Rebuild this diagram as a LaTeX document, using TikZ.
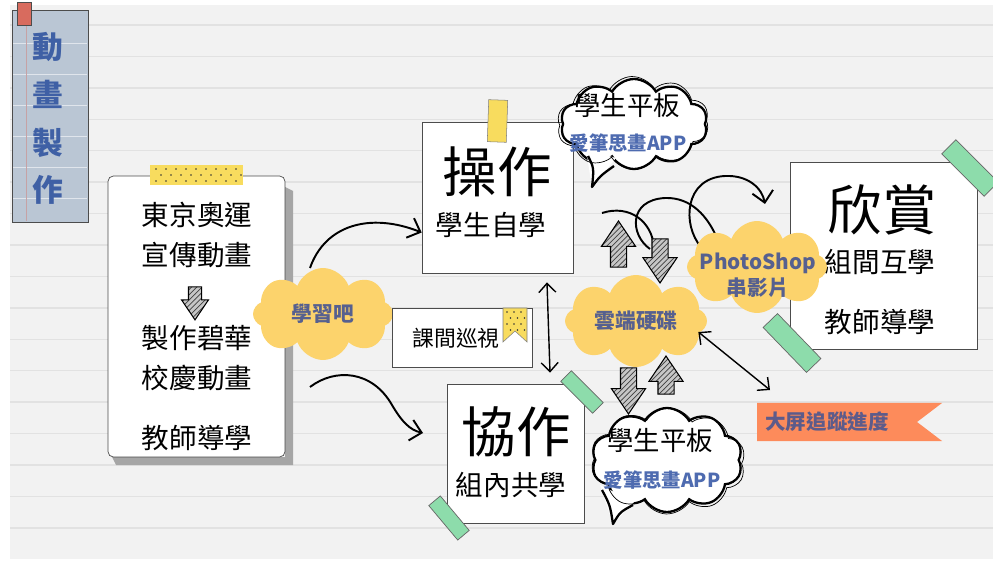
\documentclass[tikz,border=0pt]{standalone}
\usepackage{fontspec}
\setmainfont{Noto Sans CJK TC}
\usetikzlibrary{shapes.symbols,shapes.arrows,arrows.meta,patterns,positioning}

\definecolor{paper}{HTML}{F2F2F2}
\definecolor{rulegray}{HTML}{E2E2E2}
\definecolor{tagblue}{HTML}{BAC6D4}
\definecolor{titleblue}{HTML}{3F60A5}
\definecolor{tabred}{HTML}{D86B5E}
\definecolor{cloudyellow}{HTML}{FCD36C}
\definecolor{cloudtext}{HTML}{56608F}
\definecolor{appblue}{HTML}{4E6BB0}
\definecolor{bannerorange}{HTML}{FD8B5B}
\definecolor{bannertext}{HTML}{5D5B8A}
\definecolor{tapegreen}{HTML}{8DDCAB}
\definecolor{tapeyellow}{HTML}{F8DC5E}

\newcommand\fsz[2]{\fontsize{#1}{#2}\selectfont}

\tikzset{
  ruleline/.style={rulegray, line width=0.8pt},
  card/.style={draw=black!70, line width=0.4pt, fill=white, inner sep=0pt},
  titlechar/.style={text=titleblue, font=\bfseries\fsz{17.5pt}{20pt}},
  yellowcloud/.style={cloud, cloud puffs=8, cloud puff arc=140, cloud ignores aspect, fill=cloudyellow, inner sep=0pt, text=cloudtext, font=\bfseries\fsz{11.8pt}{14pt}},
  cloudlabel/.style={text=cloudtext, align=center, font=\bfseries\fsz{11.8pt}{14.8pt}},
  speech/.style={cloud, cloud puffs=10, cloud puff arc=120, cloud ignores aspect, draw=black, line width=1.3pt, fill=white, inner sep=0pt},
  speechecho/.style={cloud, cloud puffs=10, cloud puff arc=120, cloud ignores aspect, draw=black, line width=0.4pt, inner sep=0pt},
  hatcharrow/.style={single arrow, draw=black, line width=0.6pt, preaction={fill=gray!45}, pattern=north east lines, pattern color=black!75, single arrow head extend=0.18cm, single arrow head indent=0pt, single arrow tip angle=68, minimum height=0.92cm, minimum width=0.66cm, inner xsep=0pt, inner ysep=0.15cm},
  greentape/.style={draw=black!60, fill=tapegreen, line width=0.4pt, inner sep=0pt},
  sketch/.style={line width=1.1pt, -{Straight Barb[length=2.2mm,width=4.2mm]}},
  twoway/.style={line width=0.8pt, {Straight Barb[length=1.8mm,width=3.4mm]}-{Straight Barb[length=1.8mm,width=3.4mm]}},
  bigtext/.style={font=\fsz{31pt}{34pt}},
  midtext/.style={font=\fsz{15.7pt}{22.8pt}, align=center},
  padtext/.style={font=\fsz{15pt}{17pt}},
  apptext/.style={text=appblue, font=\bfseries\fsz{11pt}{13pt}},
}

\begin{document}
\begin{tikzpicture}[x=0.02cm, y=-0.02cm]
\useasboundingbox (0,0) rectangle (993,563);
% paper
\fill[white] (0,0) rectangle (993,563);
\fill[paper] (10,5) rectangle (993,559);
\foreach \k in {0,...,16}
  \draw[ruleline] (10,{25+31.43*\k}) -- (993,{25+31.43*\k});

% title tag
\node[draw=black!70, fill=tagblue, minimum width=1.52cm, minimum height=4.24cm, inner sep=0pt] (tag) at (50,116) {};
\foreach \k in {1,...,6}
  \draw[white!55!tagblue, line width=0.5pt] (13,{12+31*\k}) -- (87,{12+31*\k});
\draw[tabred!40!tagblue, line width=0.5pt] (26,11) -- (26,221);
\node[draw=black!70, fill=tabred, minimum width=0.28cm, minimum height=0.46cm, inner sep=0pt] (tab) at (24,13.5) {};
\foreach \ch [count=\i] in {動,畫,製,作}
  \node[titlechar] (title\i) at (48,{-0.5+47.7*\i}) {\ch};

% left card
\fill[black!35] (285,187) -- (293,191) -- (293,465) -- (116,465) -- (112,457) -- (285,457) -- cycle;
\node[card, rounded corners=3pt, minimum width=3.54cm, minimum height=5.62cm] (plan) at (196.5,316.5) {};
\node[fill=tapeyellow, minimum width=1.86cm, minimum height=0.4cm, inner sep=0pt] (planTape) at (196.5,175) {};
\foreach \r in {0,1,2}
  \foreach \c in {0,...,8}
    \fill[black!80] ({156+10*\c+5*mod(\r,2)},{169+6*\r}) circle (0.5pt);
\node[midtext] (plan1) at (197,235) {東京奧運\\宣傳動畫};
\node[hatcharrow, rotate=-90, minimum height=0.66cm, minimum width=0.52cm, single arrow head extend=0.14cm, inner ysep=0.12cm] (planArrow) at (195,298.5) {};
\node[midtext] (plan2) at (197,358) {製作碧華\\校慶動畫};
\node[midtext] (plan3) at (197,438) {教師導學};

% learn cloud
\node[yellowcloud, minimum width=2.8cm, minimum height=1.84cm] (learn) at (323,314) {學習吧};

% patrol box
\node[card, minimum width=2.8cm, minimum height=1.18cm] (patrol) at (462,337.5) {};
\fill[tapeyellow, draw=black!50, line width=0.3pt] (503,308) -- (527,308) -- (527,342) -- (515,331) -- (503,342) -- cycle;
\foreach \r in {0,...,3}
  \foreach \c in {0,1,2}
    \fill[black!80] ({507+7*\c+3.5*mod(\r,2)},{312+6*\r}) circle (0.45pt);
\node[font=\fsz{12.4pt}{14pt}] (patrolT) at (456,338) {課間巡視};

% op box
\node[card, minimum width=3.02cm, minimum height=3.02cm] (opbox) at (497.5,197.5) {};
\node[fill=tapeyellow, draw=black!50, line width=0.3pt, minimum width=0.38cm, minimum height=0.84cm, inner sep=0pt, rotate=-2] (opTape) at (497.5,121) {};
\node[bigtext] (opT) at (497,172) {操作};
\node[midtext] (opS) at (491,225) {學生自學};

% co box
\node[card, minimum width=2.74cm, minimum height=2.78cm] (cobox) at (515.5,453.5) {};
\node[greentape, rotate=-45, minimum width=0.9cm, minimum height=0.3cm] (coTapeA) at (582,392) {};
\node[greentape, rotate=-50, minimum width=0.9cm, minimum height=0.3cm] (coTapeB) at (449,518) {};
\node[bigtext] (coT) at (516,432) {協作};
\node[midtext] (coS) at (511,485) {組內共學};

% arrows out of the plan card
\coordinate (planUp) at (310,268);
\coordinate (planDown) at (310,387);
\coordinate (coIn) at (423,433);
\draw[sketch] (planUp) .. controls (325,225) and (370,212) .. ([yshift=-0.7cm]opbox.west);
\draw[sketch] (planDown) .. controls (335,368) and (372,370) .. (392,405) .. controls (402,422) and (410,430) .. (coIn);
\draw[twoway] ([xshift=0.99cm, yshift=-0.18cm]opbox.south) -- ([xshift=0.69cm, yshift=0.22cm]cobox.north);

% tablet clouds
\node[speech, minimum width=2.94cm, minimum height=1.8cm] (padTop) at (634,124) {};
\fill[white] (586,150) -- (592,187) -- (616,158) -- cycle;
\draw[line width=1.3pt, line join=round] (588,156) .. controls (594,168) .. (592,187) .. controls (600,176) .. (614,166);
\node[speechecho, minimum width=3.04cm, minimum height=1.86cm, rotate=2] (padTopEcho) at (633,123) {};
\node[padtext] (padTopA) at (627,106) {學生平板};
\node[apptext] (padTopB) at (628,143) {愛筆思畫APP};

\node[speech, minimum width=3.02cm, minimum height=2.08cm] (padBot) at (667,460) {};
\fill[white] (600,485) -- (613,524) -- (634,502) -- cycle;
\draw[line width=1.3pt, line join=round] (602,490) .. controls (610,505) .. (613,524) .. controls (620,512) .. (633,505);
\node[speechecho, minimum width=3.1cm, minimum height=2.12cm, rotate=-2] (padBotEcho) at (668,461) {};
\node[padtext] (padBotA) at (660,440) {學生平板};
\node[apptext] (padBotB) at (662,480) {愛筆思畫APP};

% swirls
\draw[line width=1.1pt] (602,213) .. controls (630,204) and (652,222) .. (654,247);
\draw[line width=1.1pt] (650,249) .. controls (630,235) and (628,200) .. (665,198) .. controls (692,197) and (708,218) .. (716,236);
\draw[sketch] (701,247) .. controls (682,225) and (684,178) .. (725,176) .. controls (748,175) and (762,188) .. (765,204);

% drive cloud and up/down arrows
\node[yellowcloud, minimum width=2.84cm, minimum height=1.84cm] (drive) at (636,321) {雲端硬碟};
\node[hatcharrow, rotate=90] (upA) at (618.5,250) {};
\node[hatcharrow, rotate=-90, minimum height=0.88cm] (downA) at (660,255) {};
\node[hatcharrow, rotate=-90] (downB) at (628.5,385) {};
\node[hatcharrow, rotate=90, minimum height=0.76cm] (upB) at (666,381) {};

% enjoy box
\node[card, minimum width=3.74cm, minimum height=3.74cm] (enjoy) at (883.5,255.5) {};
\node[greentape, rotate=-45, minimum width=1.2cm, minimum height=0.4cm] (enjoyTapeA) at (970,168) {};
\node[greentape, rotate=-46, minimum width=1.25cm, minimum height=0.4cm] (enjoyTapeB) at (792,343) {};
\node[bigtext] (enjoyT) at (882,210) {欣賞};
\node[midtext] (enjoyS) at (880,262) {組間互學};
\node[midtext] (enjoyG) at (880,322) {教師導學};

% photoshop cloud
\node[yellowcloud, minimum width=2.8cm, minimum height=1.84cm] (photo) at (757,267) {};
\node[cloudlabel] (photoT) at (758,275) {PhotoShop\\串影片};

% big screen
\coordinate (trackTip) at (770,390);
\draw[twoway] ([xshift=-0.18cm, yshift=-0.22cm]drive.east) -- (trackTip);
\fill[bannerorange] (757,403) -- (942,403) -- (917,422) -- (942,441) -- (757,441) -- cycle;
\node[text=bannertext, font=\bfseries\fsz{11.7pt}{14pt}] (track) at (827,422) {大屏追蹤進度};
\end{tikzpicture}
\end{document}
